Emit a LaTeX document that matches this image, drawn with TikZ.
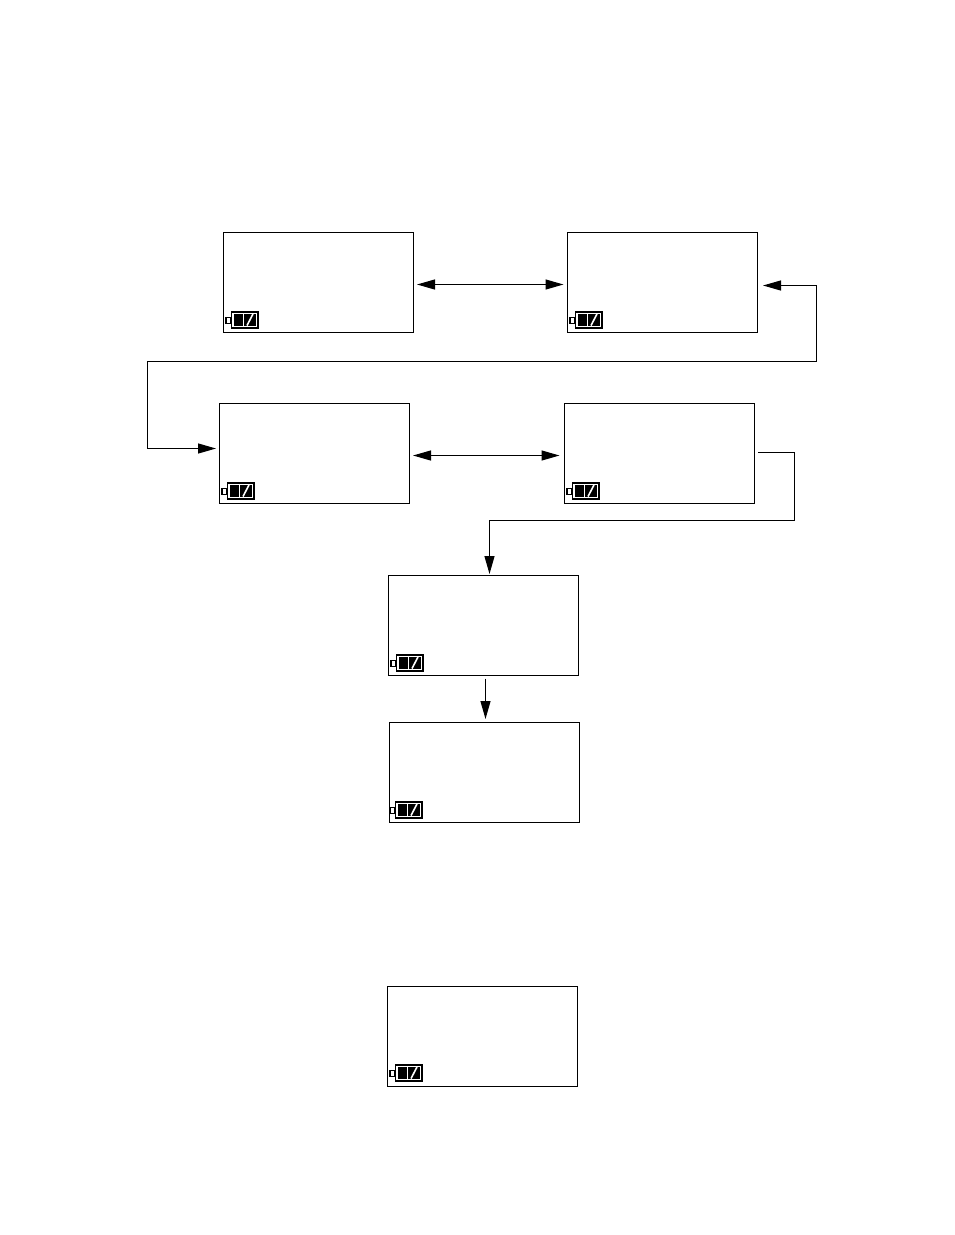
\documentclass[tikz,border=0pt]{standalone}
\usetikzlibrary{arrows.meta,calc}
\tikzset{
  screen/.style={draw=black,line width=0.9pt,minimum width=142.5pt,minimum height=75pt,inner sep=0pt,outer sep=0pt,anchor=north west},
  link/.style={draw=black,line width=0.85pt,>={Triangle[length=13.5pt,width=7.5pt]}},
  batt/.pic={
    \draw[black,line width=0.8pt,fill=white] (-4.5,6.5) rectangle (0,12.5);
    \fill[black] (0,0) rectangle (28.5,17.5);
    \fill[white] (1.8,1.8) rectangle (26.7,15.7);
    \fill[black] (3,3) rectangle (12.4,14.5);
    \fill[black] (13.6,3) rectangle (25.8,14.5);
    \draw[white,line width=1.2pt] (16.5,14.5) -- (22.5,3);
  }
}
\begin{document}
\begin{tikzpicture}[x=0.75pt,y=-0.75pt]
\useasboundingbox (0,0) rectangle (954,1235);
\node[screen] (a) at (223.5,232.5) {};
\node[screen] (b) at (567.5,232.5) {};
\node[screen] (c) at (219.5,403.5) {};
\node[screen] (d) at (564.5,403.5) {};
\node[screen] (e) at (388.5,575.5) {};
\node[screen] (f) at (389.5,722.5) {};
\node[screen] (g) at (387.5,986.5) {};
\pic at (230.5,311) {batt};
\pic at (574.5,311) {batt};
\pic at (226.5,482) {batt};
\pic at (571.5,482) {batt};
\pic at (395.5,654) {batt};
\pic at (394.5,801) {batt};
\pic at (394.5,1064) {batt};
\coordinate (bin) at ($(b.east)+(5.5,3)$);
\coordinate (cin) at ($(c.west)+(-3.5,-5)$);
\coordinate (dout) at ($(d.east)+(3.5,-1)$);
\coordinate (ein) at ($(e.north west)+(101,-1.5)$);
\draw[link,<->] ($(a.east)+(3.5,2)$) -- ($(b.west)+(-4,2)$);
\draw[link,<->] ($(c.east)+(3.5,2)$) -- ($(d.west)+(-5,2)$);
\draw[link,<->] (bin) -- (816.5,285.5) -- (816.5,361.5) -- (147.5,361.5) -- (147.5,448.5) -- (cin);
\draw[link,->] (dout) -- (794.5,452.5) -- (794.5,520.5) -- (489.5,520.5) -- (ein);
\draw[link,->] ($(e.south west)+(97,3)$) -- ($(f.north west)+(96,-3.5)$);
\end{tikzpicture}
\end{document}
